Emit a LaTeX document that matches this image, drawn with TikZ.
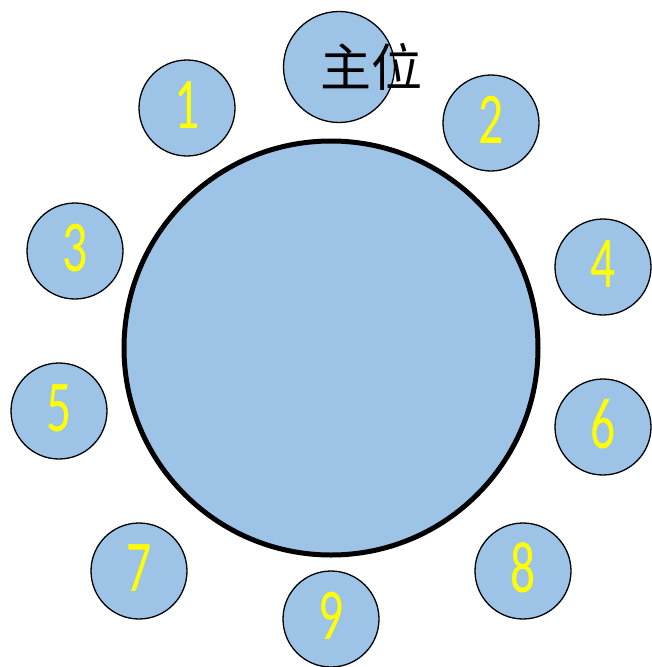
\documentclass[tikz,border=0pt]{standalone}
\usepackage{fontspec}
\newfontfamily\cjk{Noto Sans CJK SC}
\newfontfamily\seatfont{Carlito}
\definecolor{seatblue}{HTML}{9DC3E6}
\definecolor{numyellow}{HTML}{FFFF00}
\tikzset{
  seat/.style={circle, draw=black, line width=1.3pt, fill=seatblue,
    minimum size=96pt, inner sep=0pt},
  seatnum/.style={text=numyellow, font=\seatfont\fontsize{73}{73}\selectfont,
    xscale=0.68}
}
\begin{document}
\begin{tikzpicture}[x=1pt, y=-1pt]

  %% ---- Frame ----
  \useasboundingbox (0,0) rectangle (651,667);

  %% ---- Table ----
  \node[circle, draw=black, line width=5pt, fill=seatblue,
    minimum size=414pt, inner sep=0pt] (table) at (331,348) {};

  %% ---- Host seat ----
  \node[seat, minimum size=111pt] (host) at (339,67) {};
  \node[font=\cjk\fontsize{51}{51}\selectfont, inner sep=0pt] (hostlabel)
    at (371,67) {主位};

  %% ---- Guest seats ----
  \foreach \n/\x/\y in {1/187/108, 2/491/123, 3/75/251, 4/603/267,
                        5/59/411, 6/603/427, 7/139/571, 8/523/571, 9/331/619}
  {
    \node[seat] (s\n) at (\x,\y) {};
    \node[seatnum] (n\n) at (\x,{\y-3}) {\n};
  }

\end{tikzpicture}
\end{document}
